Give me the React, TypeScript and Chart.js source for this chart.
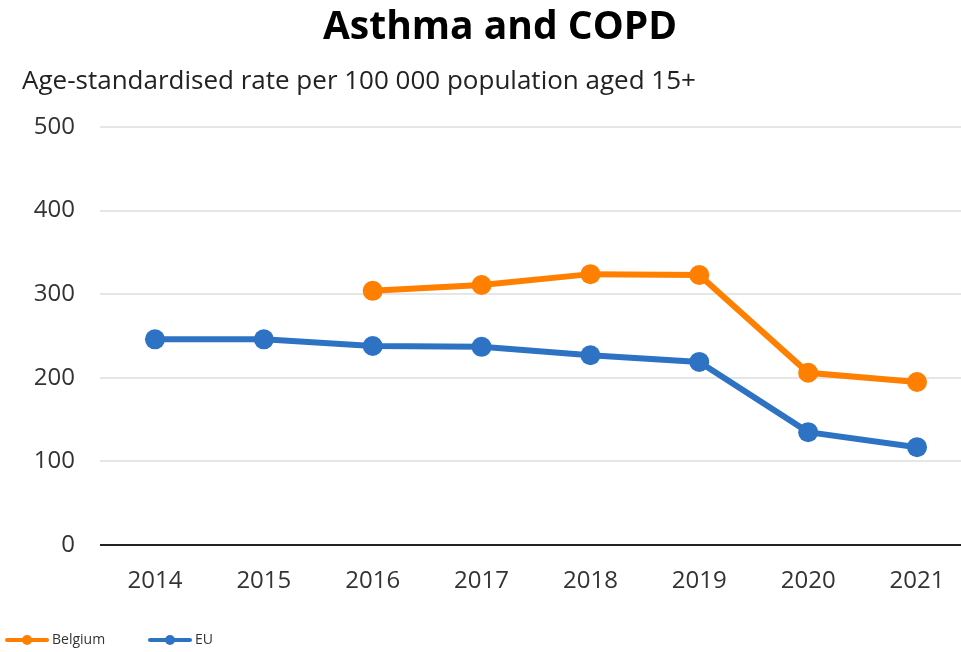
import React, { useEffect, useRef } from 'react';
import { Chart, registerables } from 'chart.js';
Chart.register(...registerables);

const years = [2014, 2015, 2016, 2017, 2018, 2019, 2020, 2021];
const belgium: (number | null)[] = [null, null, 304, 311, 324, 323, 206, 195];
const eu: number[] = [246, 246, 238, 237, 227, 219, 135, 117];
const yTicks = [0, 100, 200, 300, 400, 500];
const TITLE = 'Asthma and COPD';
const SUBTITLE = 'Age-standardised rate per 100 000 population aged 15+';
const SERIES_NAMES = ['Belgium', 'EU'];
const COLORS = ['#FF7F00', '#2E72C4'];
const FONT = '"Open Sans", sans-serif';

const textPlugin = {
  id: 'texts',
  afterDraw(chart: any) {
    const ctx = chart.ctx as CanvasRenderingContext2D;
    ctx.save();
    ctx.textBaseline = 'middle';
    ctx.fillStyle = '#000';
    ctx.font = `bold 39px ${FONT}`;
    ctx.textAlign = 'center';
    ctx.fillText(TITLE, 500, 28);
    ctx.font = `26px ${FONT}`;
    ctx.textAlign = 'left';
    ctx.fillStyle = '#222';
    ctx.fillText(SUBTITLE, 22, 82);
    // legend
    let x = 5;
    const y = 640;
    ctx.font = `14px ${FONT}`;
    chart.data.datasets.forEach((ds: any) => {
      const c = ds.borderColor;
      ctx.strokeStyle = c;
      ctx.fillStyle = c;
      ctx.lineWidth = 4;
      ctx.lineCap = 'round';
      ctx.beginPath();
      ctx.moveTo(x + 2, y);
      ctx.lineTo(x + 42, y);
      ctx.stroke();
      ctx.beginPath();
      ctx.arc(x + 22, y, 5, 0, Math.PI * 2);
      ctx.fill();
      ctx.fillStyle = '#333';
      ctx.fillText(ds.label, x + 47, y);
      x += 143;
    });
    ctx.restore();
  },
};

export default function App() {
  const ref = useRef<HTMLCanvasElement>(null);
  useEffect(() => {
    document.body.style.margin = '0';
    const chart = new Chart(ref.current!, {
      type: 'line',
      data: {
        datasets: [belgium, eu].map((arr, k) => ({
          label: SERIES_NAMES[k],
          data: years.map((yr, i) => ({ x: yr, y: arr[i] })),
          borderColor: COLORS[k],
          backgroundColor: COLORS[k],
          borderWidth: 6,
          pointRadius: 10,
          pointBorderWidth: 0,
          pointBackgroundColor: COLORS[k],
          tension: 0,
        })) as any,
      },
      options: {
        animation: false,
        responsive: false,
        maintainAspectRatio: false,
        layout: { autoPadding: false, padding: { top: 127, bottom: 47, left: 0, right: 0 } },
        plugins: { legend: { display: false }, tooltip: { enabled: false }, title: { display: false } },
        scales: {
          x: {
            type: 'linear',
            min: 2013.495,
            max: 2021.404,
            afterBuildTicks: (axis: any) => {
              axis.ticks = years.map((v) => ({ value: v }));
            },
            afterFit: (scale: any) => {
              scale.height = 60;
              scale.paddingRight = 0;
              scale.paddingLeft = 0;
            },
            grid: { display: false, drawTicks: false },
            border: { display: false },
            ticks: {
              padding: 22,
              color: '#333',
              font: { family: FONT, size: 24 },
              callback: (v: any) => String(v),
              maxRotation: 0,
              autoSkip: false,
            },
          },
          y: {
            min: 0,
            max: 500,
            afterBuildTicks: (axis: any) => {
              axis.ticks = yTicks.map((v) => ({ value: v }));
            },
            afterFit: (scale: any) => {
              scale.width = 100;
            },
            grid: {
              drawTicks: false,
              color: (ctx: any) => (ctx.tick && ctx.tick.value === 0 ? '#222' : '#e6e6e6'),
              lineWidth: 2,
            },
            border: { display: false },
            ticks: {
              padding: 25,
              color: '#333',
              font: { family: FONT, size: 24 },
            },
          },
        },
      },
      plugins: [textPlugin],
    });
    return () => chart.destroy();
  }, []);
  return (
    <div style={{ width: 961, height: 652 }}>
      <canvas ref={ref} width={961} height={652} style={{ display: 'block' }} />
    </div>
  );
}
